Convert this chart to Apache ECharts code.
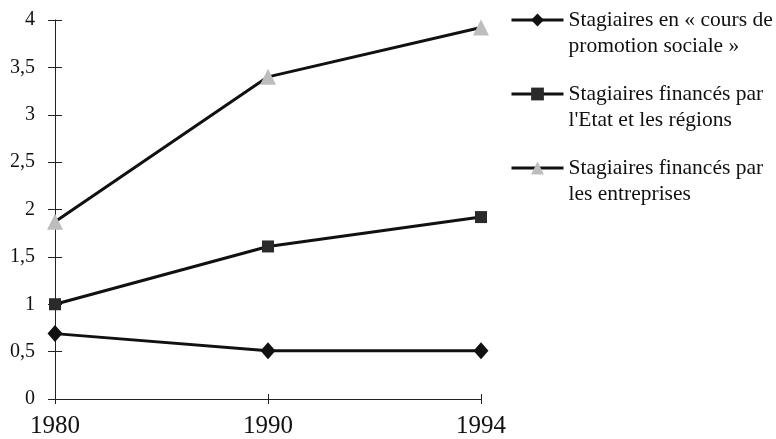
<!DOCTYPE html>
<html>
<head>
<meta charset="utf-8">
<script src="https://cdn.jsdelivr.net/npm/echarts@6/dist/echarts.min.js"></script>
<style>html,body{margin:0;padding:0;background:#fff;}#c{width:776px;height:439px;}</style>
</head>
<body>
<div id="c"></div>
<script>
const categories = ['1980', '1990', '1994'];
const promotionSociale = [0.69, 0.51, 0.51];
const etatRegions = [1.0, 1.61, 1.92];
const entreprises = [1.87, 3.40, 3.92];
const seriesNames = [
  'Stagiaires en « cours de\npromotion sociale »',
  'Stagiaires financés par\nl\'Etat et les régions',
  'Stagiaires financés par\nles entreprises'
];
const yMin = 0, yMax = 4, yStep = 0.5;

const FONT = '"Liberation Serif", "Times New Roman", serif';
const chart = echarts.init(document.getElementById('c'), null, {renderer: 'canvas'});
const axisLineStyle = {color: '#222', width: 1};
chart.setOption({
  backgroundColor: '#ffffff',
  animation: false,
  grid: {left: 55, right: 295, top: 20, bottom: 40, containLabel: false},
  legend: {
    orient: 'vertical', left: 510, top: -19, padding: 0,
    itemWidth: 52, itemHeight: 16, itemGap: -4,
    data: seriesNames,
    formatter: name => ' \n' + name,
    lineStyle: {width: 3},
    textStyle: {fontFamily: FONT, fontSize: 21.5, color: '#111', lineHeight: 26}
  },
  xAxis: [{
    type: 'category', data: categories, boundaryGap: false, position: 'bottom',
    axisLine: {lineStyle: axisLineStyle},
    axisTick: {show: true, length: 5, lineStyle: axisLineStyle, alignWithLabel: true},
    axisLabel: {fontFamily: FONT, fontSize: 25, color: '#111', margin: 15}
  }, {
    type: 'category', data: categories, boundaryGap: false, position: 'bottom',
    axisLine: {show: false},
    axisTick: {show: true, inside: true, length: 5, lineStyle: axisLineStyle},
    axisLabel: {show: false}
  }],
  yAxis: [{
    type: 'value', min: yMin, max: yMax, interval: yStep, position: 'left',
    axisLine: {show: true, lineStyle: axisLineStyle},
    axisTick: {show: true, length: 7, lineStyle: axisLineStyle},
    splitLine: {show: false},
    axisLabel: {fontFamily: FONT, fontSize: 20, color: '#111', margin: 20,
      formatter: v => String(v).replace('.', ',')}
  }, {
    type: 'value', min: yMin, max: yMax, interval: yStep, position: 'left',
    axisLine: {show: false},
    axisTick: {show: true, inside: true, length: 7, lineStyle: axisLineStyle},
    splitLine: {show: false},
    axisLabel: {show: false}
  }],
  series: [{
    name: seriesNames[0], type: 'line', data: promotionSociale,
    symbol: 'diamond', symbolSize: [15, 17],
    lineStyle: {color: '#111', width: 3}, itemStyle: {color: '#111'}
  }, {
    name: seriesNames[1], type: 'line', data: etatRegions,
    symbol: 'rect', symbolSize: 12,
    lineStyle: {color: '#111', width: 3}, itemStyle: {color: '#2a2a2a'}
  }, {
    name: seriesNames[2], type: 'line', data: entreprises,
    symbol: 'triangle', symbolSize: 16,
    lineStyle: {color: '#111', width: 3}, itemStyle: {color: '#bdbdbd'}
  }]
});
</script>
</body>
</html>
